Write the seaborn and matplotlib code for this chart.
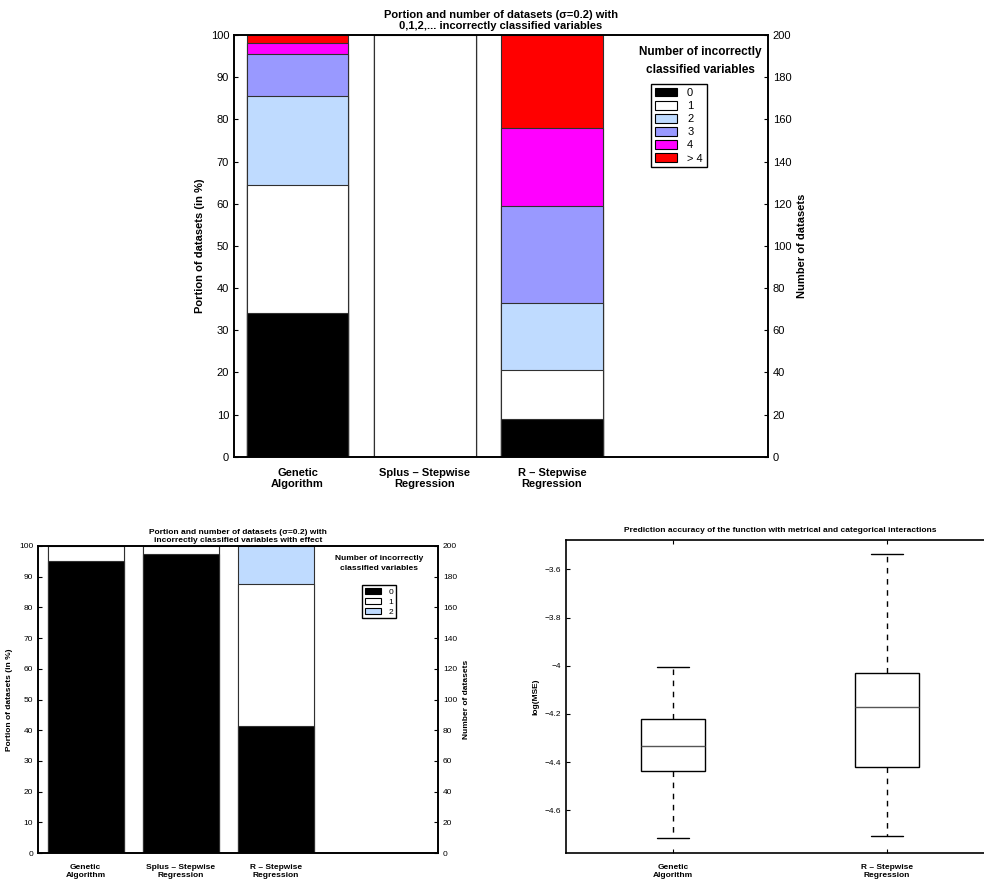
import numpy as np
import pandas as pd
import matplotlib
matplotlib.use("Agg")
import matplotlib.pyplot as plt
import seaborn as sns
from matplotlib.patches import Patch
from matplotlib.ticker import FuncFormatter

# --- data ---
methods = ["Genetic\nAlgorithm", "Splus \u2013 Stepwise\nRegression", "R \u2013 Stepwise\nRegression"]

# top chart: % of datasets with 0,1,2,... incorrectly classified variables
classes_all = ["0", "1", "2", "3", "4", "> 4"]
pct_0 = [34.0, 0.0, 9.0]
pct_1 = [30.5, 100.0, 11.5]
pct_2 = [21.0, 0.0, 16.0]
pct_3 = [10.0, 0.0, 23.0]
pct_4 = [2.5, 0.0, 18.5]
pct_gt4 = [2.0, 0.0, 22.0]

# bottom-left chart: variables with effect
classes_eff = ["0", "1", "2"]
eff_0 = [95.0, 97.5, 41.5]
eff_1 = [5.0, 2.5, 46.0]
eff_2 = [0.0, 0.0, 12.5]

# bottom-right chart: log(MSE) five-number summaries (min, q1, median, q3, max)
box_methods = ["Genetic\nAlgorithm", "R \u2013 Stepwise\nRegression"]
ga_logmse = [-4.716, -4.436, -4.333, -4.220, -4.004]
r_logmse = [-4.707, -4.420, -4.170, -4.029, -3.537]

class_colors = ["#000000", "#FFFFFF", "#BFDBFF", "#9999FF", "#FF00FF", "#FF0000"]
edge = "#303030"

sns.set_style("ticks")
plt.rcParams["font.family"] = ["Liberation Sans", "DejaVu Sans"]
plt.rcParams["axes.linewidth"] = 1.2
for key in ["text.color", "axes.labelcolor", "xtick.color", "ytick.color", "axes.edgecolor"]:
    plt.rcParams[key] = "black"

fig = plt.figure(figsize=(9.84, 8.84), dpi=100)


def stacked(ax, layers, colors):
    # draw cumulative totals from the top down so each segment sits on the one below
    cum = np.cumsum(np.array(layers), axis=0)
    for i in range(len(layers) - 1, -1, -1):
        sns.barplot(x=methods, y=cum[i], color=colors[i], saturation=1, width=0.8,
                    edgecolor=edge, linewidth=0.8, errorbar=None, ax=ax)


def style_bar_axes(ax, fs, twin_label):
    ax.set_ylim(0, 100)
    ax.set_yticks(range(0, 101, 10))
    ax.set_xlim(-0.5, 3.7)
    ax.set_xlabel("")
    ax.set_ylabel("Portion of datasets (in %)", fontsize=fs, fontweight="bold")
    ax.tick_params(axis="y", direction="in", labelsize=fs, length=3, width=0.8)
    ax.tick_params(axis="x", length=0, labelsize=fs, pad=8)
    for lbl in ax.get_xticklabels():
        lbl.set_fontweight("bold")
    for s in ax.spines.values():
        s.set_visible(True)
        s.set_color("black")
    ax2 = ax.twinx()
    ax2.set_ylim(0, 200)
    ax2.set_yticks(range(0, 201, 20))
    ax2.set_ylabel(twin_label, fontsize=fs, fontweight="bold")
    ax2.tick_params(axis="y", direction="in", labelsize=fs, length=3, width=0.8)
    return ax2


# ---------------- top chart ----------------
ax_top = fig.add_axes([234 / 984, 1 - 456.7 / 884, (768 - 234) / 984, (456.7 - 35) / 884])
stacked(ax_top, [pct_0, pct_1, pct_2, pct_3, pct_4, pct_gt4], class_colors)
style_bar_axes(ax_top, 8, "Number of datasets")
ax_top.set_title("Portion and number of datasets (\u03c3=0.2) with\n0,1,2,... incorrectly classified variables",
                 fontsize=8, fontweight="bold", pad=4)
handles = [Patch(facecolor=c, edgecolor="black", linewidth=0.8) for c in class_colors]
fig.text(700 / 984, 1 - 61 / 884, "Number of incorrectly\nclassified variables", ha="center", va="center",
         fontsize=8.5, fontweight="bold", linespacing=1.6)
leg = fig.legend(handles, classes_all, loc="upper left", bbox_to_anchor=(651 / 984, 1 - 84 / 884),
                 fontsize=8, fancybox=False, edgecolor="black", framealpha=1, borderaxespad=0,
                 handlelength=2.0, handleheight=0.8, labelspacing=0.27, borderpad=0.35, handletextpad=0.9)
leg.get_frame().set_linewidth(1.0)

# ---------------- bottom-left chart ----------------
ax_bl = fig.add_axes([38 / 984, 1 - 853 / 884, 400 / 984, (853 - 546) / 884])
stacked(ax_bl, [eff_0, eff_1, eff_2], class_colors[:3])
style_bar_axes(ax_bl, 6, "Number of datasets")
ax_bl.set_title("Portion and number of datasets (\u03c3=0.2) with\nincorrectly classified variables with effect",
                fontsize=6, fontweight="bold", pad=3)
handles = [Patch(facecolor=c, edgecolor="black", linewidth=0.8) for c in class_colors[:3]]
fig.text(379 / 984, 1 - 564 / 884, "Number of incorrectly\nclassified variables", ha="center", va="center",
         fontsize=6, fontweight="bold", linespacing=1.6)
leg = fig.legend(handles, classes_eff, loc="upper left", bbox_to_anchor=(362 / 984, 1 - 585 / 884),
                 fontsize=6, fancybox=False, edgecolor="black", framealpha=1, borderaxespad=0,
                 handlelength=2.0, handleheight=0.8, labelspacing=0.25, borderpad=0.3, handletextpad=0.9)
leg.get_frame().set_linewidth(1.0)

# ---------------- bottom-right chart ----------------
box_df = pd.DataFrame({
    "method": [box_methods[0]] * len(ga_logmse) + [box_methods[1]] * len(r_logmse),
    "logmse": ga_logmse + r_logmse,
})
ax_br = fig.add_axes([566 / 984, 1 - 853 / 884, (994 - 566) / 984, (853 - 540) / 884])
sns.boxplot(data=box_df, x="method", y="logmse", width=0.3, color="white", linecolor="black",
            linewidth=1, whis=1.5, fliersize=0, saturation=1,
            whiskerprops=dict(linestyle=(0, (4, 4))),
            medianprops=dict(color="#555555"), ax=ax_br)
ax_br.set_xlim(-0.5, 1.5)
ax_br.set_ylim(-4.777, -3.478)
ax_br.set_yticks([-3.6, -3.8, -4.0, -4.2, -4.4, -4.6])
ax_br.yaxis.set_major_formatter(FuncFormatter(lambda v, p: ("%g" % round(v, 2)).replace("-", "\u2212")))
ax_br.set_xlabel("")
ax_br.set_ylabel("log(MSE)", fontsize=6, fontweight="bold")
ax_br.set_title("Prediction accuracy of the function with metrical and categorical interactions",
                fontsize=6, fontweight="bold", pad=6)
ax_br.tick_params(direction="in", labelsize=6, length=3, width=0.8, top=True, right=True)
ax_br.tick_params(axis="x", pad=8)
for lbl in ax_br.get_xticklabels():
    lbl.set_fontweight("bold")
for s in ax_br.spines.values():
    s.set_visible(True)
    s.set_color("black")

fig.savefig("out.png", dpi=100)
